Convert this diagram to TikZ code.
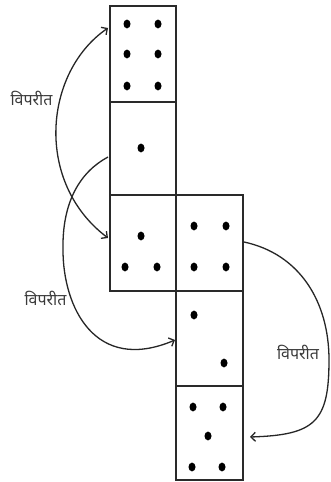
\documentclass[tikz,border=0pt]{standalone}
\usepackage{fontspec}
\newfontfamily\deva[Script=Devanagari]{Noto Sans}
\usetikzlibrary{arrows.meta}
\definecolor{boxcol}{HTML}{2A2A2A}
\definecolor{linecol}{HTML}{262626}
\definecolor{txtcol}{HTML}{3A3A3A}
\begin{document}
\begin{tikzpicture}[x=1pt,y=1pt,
  face/.style={draw=boxcol,line width=2.6pt,inner sep=0pt,outer sep=0pt,minimum width=66pt},
  pip/.style={fill=black},
  link/.style={draw=linecol,line width=1.3pt},
  tip/.style={-{Straight Barb[length=4.5pt,width=9pt]}},
  lbl/.style={text=txtcol,inner sep=0pt,font=\deva\fontsize{16}{18}\selectfont}]
\useasboundingbox (0,0) rectangle (330,482);
\fill[white] (0,0) rectangle (330,482);
% faces
\node[face,minimum height=96pt] (f6) at (143,428) {};
\node[face,minimum height=93pt] (f1) at (143,333.5) {};
\node[face,minimum height=96pt] (f3) at (143,239) {};
\node[face,minimum width=67pt,minimum height=96pt] (f4) at (209.5,239) {};
\node[face,minimum width=67pt,minimum height=95pt] (f2) at (209.5,143.5) {};
\node[face,minimum width=67pt,minimum height=94pt] (f5) at (209.5,49) {};
% pips
\foreach \p in {(127,458),(158,458),(127,428),(158,428),(127,396),(158,396),
  (141,334),
  (141,246),(125,215),(157,215),
  (194,256),(226,256),(194,215),(226,215),
  (194,167),(224,119),
  (193,75),(223,75),(208,46),(192,15),(222,15)}
  \fill[pip] \p ellipse [x radius=3.5pt,y radius=4.4pt];
% connector end points
\coordinate (a1) at (108,454);
\coordinate (a2) at (108,244);
\coordinate (b1) at (108,325);
\coordinate (b2) at (175,142);
\coordinate (c1) at (244,240);
\coordinate (c2) at (250,45);
% connectors
\draw[link,{Straight Barb[length=4.5pt,width=9pt]}-{Straight Barb[length=4.5pt,width=9pt]}]
  (a1) .. controls (44,410) and (34,300) .. (a2);
\draw[link,tip] (b1) .. controls (80,310) and (62,280) .. (63,232)
  .. controls (63,175) and (95,108) .. (b2);
\draw[link,tip] (c1) .. controls (300,228) and (329,180) .. (329,122)
  .. controls (329,60) and (315,47) .. (c2);
% labels
\node[lbl] (l1) at (31.5,384) {विपरीत};
\node[lbl] (l2) at (45.5,184) {विपरीत};
\node[lbl] (l3) at (298,130) {विपरीत};
\end{tikzpicture}
\end{document}
